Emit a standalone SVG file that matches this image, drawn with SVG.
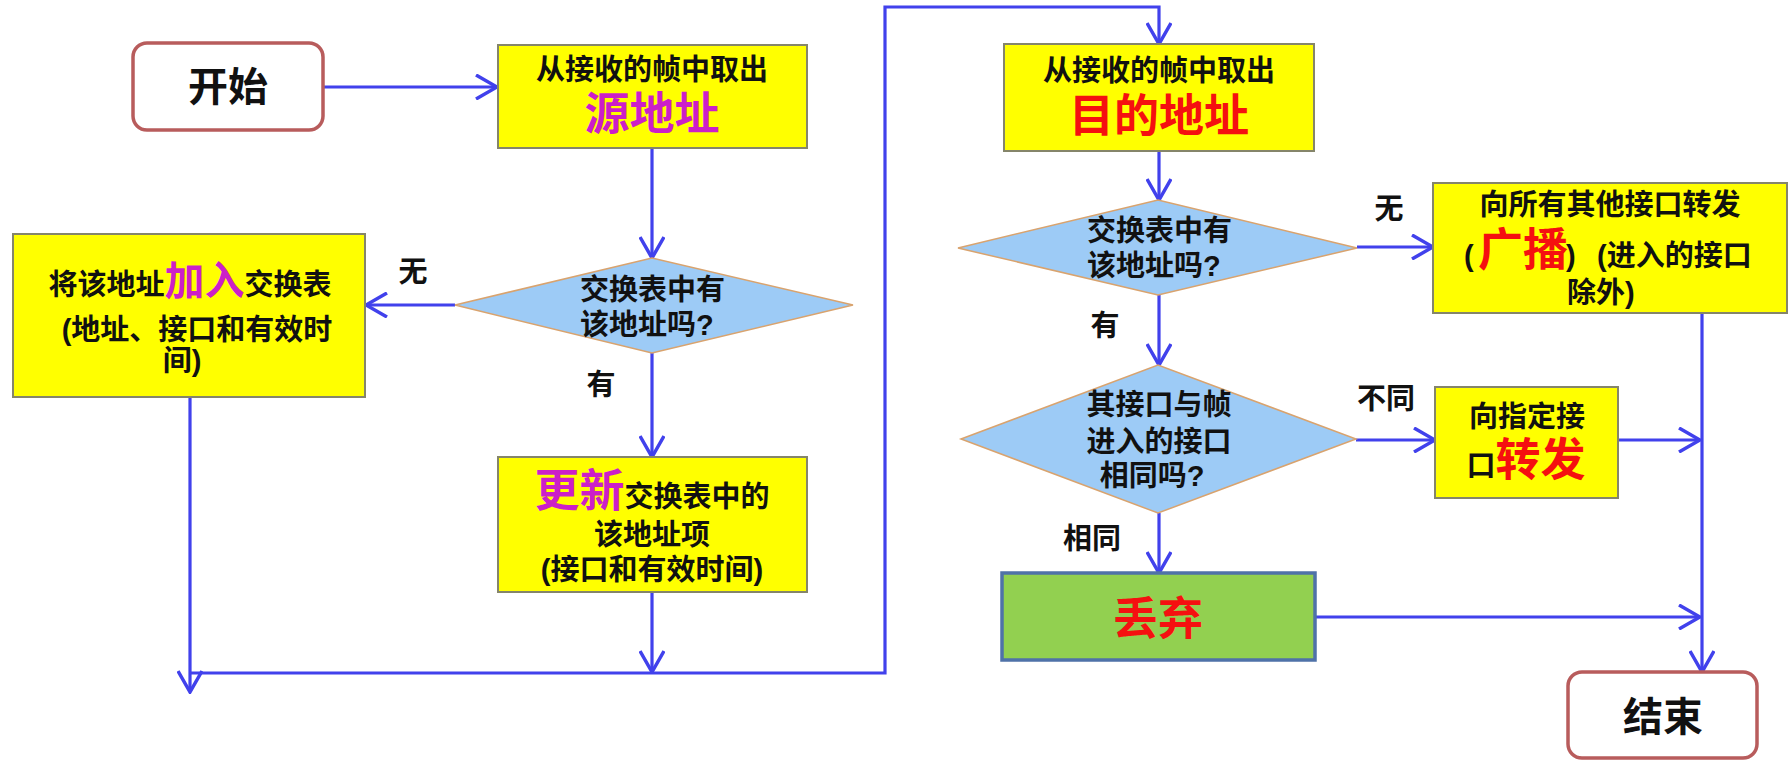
<svg xmlns="http://www.w3.org/2000/svg" width="1791" height="773" viewBox="0 0 1791 773">
<style>
text{font-family:"Liberation Sans","Noto Sans CJK SC",sans-serif;font-weight:700;fill:#111;}
.s{font-size:29px;}
.b{font-size:45px;}
.t{font-size:40px;}
.m{fill:#cc1fc8;}
.r{fill:#f51010;}
.y{fill:#ffff00;stroke:#85856a;stroke-width:2;}
.d{fill:#9dcbf6;stroke:#d9a36e;stroke-width:1.5;}
.term{fill:#fff;stroke:#b85c5c;stroke-width:3.5;}
.c{fill:none;stroke:#4141ec;stroke-width:3.2;marker-end:url(#a);}
.c2{fill:none;stroke:#4141ec;stroke-width:3.2;}
</style>
<defs>
<marker id="a" viewBox="0 0 24 26" refX="22" refY="13" markerWidth="24" markerHeight="26" markerUnits="userSpaceOnUse" orient="auto">
<path d="M1,1 L22,13 L1,25" fill="none" stroke="#4141ec" stroke-width="3.5"/>
</marker>
</defs>
<rect width="1791" height="773" fill="#fff"/>
<g id="connectors">
<path class="c" d="M323,87 L497,87"/>
<path class="c" d="M652,148 L652,258"/>
<path class="c" d="M455,305 L366,305"/>
<path class="c" d="M652,353 L652,457"/>
<path class="c" d="M190,397 L190,692"/>
<path class="c" d="M652,592 L652,672"/>
<path class="c" d="M190,673 L885,673 L885,7 L1159,7 L1159,44"/>
<path class="c" d="M1159,151 L1159,200"/>
<path class="c" d="M1357,247 L1433,247"/>
<path class="c" d="M1159,295 L1159,365"/>
<path class="c" d="M1356,440 L1435,440"/>
<path class="c" d="M1159,513 L1159,573"/>
<path class="c" d="M1618,440 L1700,440"/>
<path class="c" d="M1315,617 L1700,617"/>
<path class="c" d="M1702,313 L1702,672"/>
</g>
<g id="labels">
<text class="s" x="413" y="282" text-anchor="middle">无</text>
<text class="s" x="601" y="395" text-anchor="middle">有</text>
<text class="s" x="1389" y="219" text-anchor="middle">无</text>
<text class="s" x="1105" y="336" text-anchor="middle">有</text>
<text class="s" x="1386" y="409" text-anchor="middle">不同</text>
<text class="s" x="1092" y="549" text-anchor="middle">相同</text>
</g>
<g id="start">
<rect class="term" x="133" y="43" width="190" height="87" rx="14"/>
<text class="t" x="228" y="101" text-anchor="middle">开始</text>
</g>
<g id="src">
<rect class="y" x="498" y="45" width="309" height="103"/>
<text class="s" x="652" y="80" text-anchor="middle">从接收的帧中取出</text>
<text class="b m" x="652" y="130" text-anchor="middle">源地址</text>
</g>
<g id="dec1">
<polygon class="d" points="455,305 652,258 853,305 652,353"/>
<text class="s" x="580" y="300">交换表中有</text>
<text class="s" x="580" y="335">该地址吗?</text>
</g>
<g id="add">
<rect class="y" x="13" y="234" width="352" height="163"/>
<text class="s" x="190" y="295" text-anchor="middle">将该地址<tspan class="t m">加入</tspan>交换表</text>
<text class="s" x="197" y="340" text-anchor="middle">(地址、接口和有效时</text>
<text class="s" x="182" y="371" text-anchor="middle">间)</text>
</g>
<g id="update">
<rect class="y" x="498" y="457" width="309" height="135"/>
<text class="s" x="652" y="507" text-anchor="middle"><tspan class="b m">更新</tspan>交换表中的</text>
<text class="s" x="652" y="545" text-anchor="middle">该地址项</text>
<text class="s" x="652" y="580" text-anchor="middle">(接口和有效时间)</text>
</g>
<g id="dst">
<rect class="y" x="1004" y="44" width="310" height="107"/>
<text class="s" x="1159" y="81" text-anchor="middle">从接收的帧中取出</text>
<text class="b r" x="1159" y="132" text-anchor="middle">目的地址</text>
</g>
<g id="dec2">
<polygon class="d" points="958,248 1158,200 1357,248 1158,295"/>
<text class="s" x="1087" y="241">交换表中有</text>
<text class="s" x="1087" y="276">该地址吗?</text>
</g>
<g id="broadcast">
<rect class="y" x="1433" y="183" width="354" height="130"/>
<text class="s" x="1610" y="215" text-anchor="middle">向所有其他接口转发</text>
<text class="s" y="266"><tspan x="1464">(</tspan><tspan class="b r" x="1478">广播</tspan><tspan x="1566">)</tspan><tspan x="1597">(进入的接口</tspan></text>
<text class="s" x="1567" y="303">除外)</text>
</g>
<g id="dec3">
<polygon class="d" points="961,439 1158,365 1356,439 1158,513"/>
<text class="s" x="1159" y="415" text-anchor="middle">其接口与帧</text>
<text class="s" x="1159" y="452" text-anchor="middle">进入的接口</text>
<text class="s" x="1152" y="486" text-anchor="middle">相同吗?</text>
</g>
<g id="forward">
<rect class="y" x="1435" y="387" width="183" height="111"/>
<text class="s" x="1527" y="427" text-anchor="middle">向指定接</text>
<text class="s" x="1526" y="476" text-anchor="middle">口<tspan class="b r">转发</tspan></text>
</g>
<g id="discard">
<rect x="1002" y="573" width="313" height="87" fill="#92d050" stroke="#4f72a8" stroke-width="3.5"/>
<text class="b r" x="1158" y="635" text-anchor="middle">丢弃</text>
</g>
<g id="end">
<rect class="term" x="1568" y="672" width="189" height="86" rx="14"/>
<text class="t" x="1663" y="731" text-anchor="middle">结束</text>
</g>
</svg>
